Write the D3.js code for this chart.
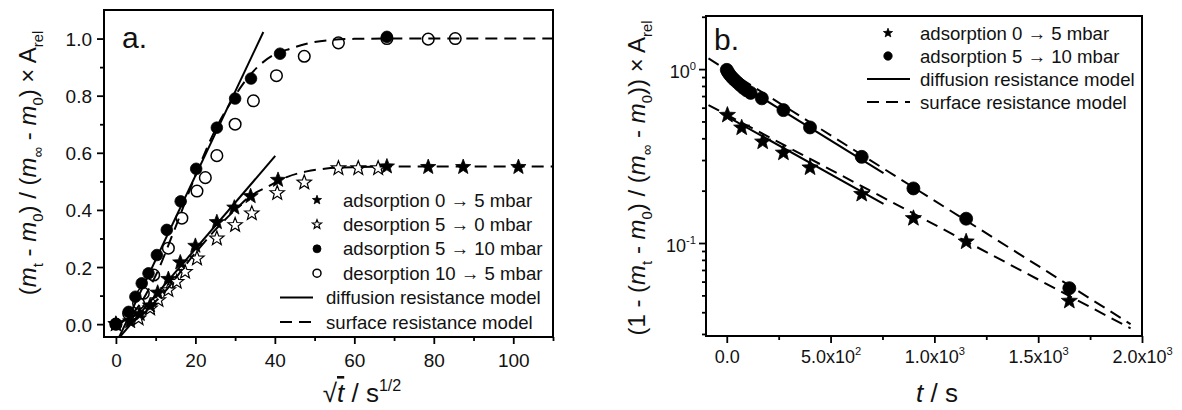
<!DOCTYPE html>
<html>
<head>
<meta charset="utf-8">
<script src="https://cdn.jsdelivr.net/npm/d3@7"></script>
<style>
  body { margin: 0; background: #fff; }
  svg { display: block; font-family: "Liberation Sans", Arial, sans-serif; }
  .tick text { fill: #111; }
</style>
</head>
<body>
<svg id="chart" width="1182" height="410"></svg>
<script>
// ── Panel a: sqrt(t) vs normalised uptake ─────────────────────────────────────
const aTicksX = [0, 20, 40, 60, 80, 100];
const aMinorX = [10, 30, 50, 70, 90, 110];
const aTicksY = [0.0, 0.2, 0.4, 0.6, 0.8, 1.0];
const aMinorY = [0.1, 0.3, 0.5, 0.7, 0.9];

const adsLowX = [0, 3.6, 6.0, 8.6, 10.5, 13.2, 16.2, 20.0, 25.4, 29.8, 33.9, 40.8, 68.2, 78.6, 87.4, 101.3];
const adsLowY = [0.0, 0.01, 0.035, 0.065, 0.11, 0.158, 0.216, 0.274, 0.357, 0.408, 0.448, 0.505, 0.552, 0.55, 0.55, 0.55];

const desLowX = [0, 5.7, 8.6, 10.7, 13.2, 15.3, 17.4, 20.4, 25.4, 30.0, 34.2, 40.6, 47.4, 56, 61, 66];
const desLowY = [0.0, 0.02, 0.055, 0.084, 0.119, 0.148, 0.183, 0.23, 0.30, 0.347, 0.388, 0.459, 0.496, 0.546, 0.546, 0.546];

const adsHighX = [0, 3.2, 4.9, 6.5, 8.2, 10.3, 12.8, 16.3, 20.2, 25.4, 30.0, 34.0, 41.3, 68.2];
const adsHighY = [0.0, 0.043, 0.096, 0.143, 0.178, 0.242, 0.33, 0.43, 0.544, 0.688, 0.79, 0.86, 0.947, 1.006];

const desHighX = [0, 3.2, 5.7, 6.9, 9.5, 13.2, 16.6, 20.4, 22.5, 25.4, 30.0, 34.6, 40.4, 47.4, 56, 68.2, 78.6, 85.4];
const desHighY = [0.0, 0.037, 0.073, 0.108, 0.172, 0.266, 0.371, 0.466, 0.513, 0.59, 0.70, 0.782, 0.87, 0.938, 0.985, 1.0, 0.998, 1.0];

const diffAHighX = [0.66, 37.1], diffAHighY = [-0.05, 1.023];
const diffALowX = [0.66, 40.1], diffALowY = [-0.05, 0.589];
const surfAHighX = [0, 5, 10, 15, 20, 25, 30, 33, 36, 40, 44, 48, 54, 60, 70, 110];
const surfAHighY = [0, 0.05, 0.17, 0.34, 0.52, 0.68, 0.80, 0.86, 0.905, 0.945, 0.965, 0.982, 0.995, 0.999, 1.0, 1.0];
const surfALowX = [0, 10, 20, 25, 30, 34, 38, 43, 48, 53, 60, 70, 110];
const surfALowY = [0, 0.08, 0.25, 0.33, 0.40, 0.45, 0.48, 0.515, 0.535, 0.545, 0.55, 0.552, 0.552];

const aLegend = ["adsorption 0 \u2192 5 mbar", "desorption 5 \u2192 0 mbar", "adsorption 5 \u2192 10 mbar",
  "desorption 10 \u2192 5 mbar", "diffusion resistance model", "surface resistance model"];

// ── Panel b: t vs remaining fraction (log) ────────────────────────────────────
const bTicksX = [0, 500, 1000, 1500, 2000];
const bTickLabelsX = [["0.0", ""], ["5.0x10", "2"], ["1.0x10", "3"], ["1.5x10", "3"], ["2.0x10", "3"]];
const bMinorX = [250, 750, 1250, 1750];
const bTicksY = [1, 0.1];
const bTickLabelsY = [["10", "0"], ["10", "-1"]];
const bMinorY = [0.03, 0.04, 0.05, 0.06, 0.07, 0.08, 0.09, 0.2, 0.3, 0.4, 0.5, 0.6, 0.7, 0.8, 0.9, 2];

const bAdsLowT = [3, 72, 173, 273, 401, 650, 899, 1153, 1650];
const bAdsLowV = [0.544, 0.46, 0.382, 0.330, 0.271, 0.191, 0.1387, 0.1017, 0.0464];
const bAdsHighT = [0, 6, 14, 24, 36, 50, 64, 80, 96, 115, 169, 273, 401, 650, 899, 1153, 1650];
const bAdsHighV = [0.99, 0.96, 0.93, 0.90, 0.87, 0.84, 0.81, 0.78, 0.755, 0.73, 0.679, 0.581, 0.462, 0.313, 0.206, 0.138, 0.055];

const diffBHighT = [0, 755], diffBHighV = [0.91, 0.252];
const diffBLowT = [0, 755], diffBLowV = [0.535, 0.168];
const surfBHighT = [-88, 1945], surfBHighV = [1.152, 0.0342];
const surfBLowT = [-88, 1945], surfBLowV = [0.621, 0.0323];

const bLegend = ["adsorption 0 \u2192 5 mbar", "adsorption 5 \u2192 10 mbar",
  "diffusion resistance model", "surface resistance model"];

// ── Helpers ───────────────────────────────────────────────────────────────────
const svg = d3.select("#chart");
svg.append("rect").attr("width", 1182).attr("height", 410).attr("fill", "#fff");

function starPath(R) {
  const r = R * 0.42;
  let p = "";
  for (let i = 0; i < 10; i++) {
    const a = -Math.PI / 2 + i * Math.PI / 5;
    const rr = i % 2 ? r : R;
    p += (i ? "L" : "M") + (rr * Math.cos(a)).toFixed(2) + "," + (rr * Math.sin(a)).toFixed(2);
  }
  return p + "Z";
}

function marker(g, kind, size) {
  if (kind === "star" || kind === "ostar") {
    return g.append("path").attr("d", starPath(size))
      .attr("fill", kind === "star" ? "#000" : "none")
      .attr("stroke", "#000").attr("stroke-width", kind === "star" ? 0.8 : 1.2)
      .attr("stroke-linejoin", "miter");
  }
  return g.append("circle").attr("r", size)
    .attr("fill", kind === "dot" ? "#000" : "none")
    .attr("stroke", "#000").attr("stroke-width", kind === "dot" ? 0.8 : 1.5);
}

// rich text: parts = [{t, i, sub, sup, over}]
function rich(textSel, parts, fs) {
  let shift = 0;
  parts.forEach((p) => {
    const target = p.sub ? fs * 0.28 : p.sup ? -fs * 0.42 : 0;
    const ts = textSel.append("tspan").text(p.t)
      .attr("font-size", p.sub || p.sup ? fs * 0.62 : fs);
    if (target - shift !== 0) ts.attr("dy", target - shift);
    if (p.i) ts.attr("font-style", "italic");
    if (p.over) ts.style("text-decoration", "overline");
    shift = target;
  });
}

function frame(g, x0, y0, x1, y1) {
  g.append("rect").attr("x", x0).attr("y", y0).attr("width", x1 - x0).attr("height", y1 - y0)
    .attr("fill", "none").attr("stroke", "#000").attr("stroke-width", 2);
}

function drawSeries(g, xs, ys, x, y, kind, size) {
  xs.forEach((v, i) => {
    const m = marker(g, kind, size);
    m.attr("transform", `translate(${x(v)},${y(ys[i])})`);
  });
}

function drawLine(g, xs, ys, x, y, dashed, curve) {
  const pts = xs.map((v, i) => [v, ys[i]]);
  g.append("path")
    .attr("d", d3.line().x((d) => x(d[0])).y((d) => y(d[1])).curve(curve || d3.curveLinear)(pts))
    .attr("fill", "none").attr("stroke", "#000").attr("stroke-width", 2)
    .attr("stroke-dasharray", dashed ? "12,7" : null);
}

function styleAxis(g) {
  g.select(".domain").remove();
  g.selectAll(".tick line").attr("stroke", "#000").attr("stroke-width", 1.8);
}

// ── Panel a ───────────────────────────────────────────────────────────────────
const A = { l: 104, t: 10, r: 553, b: 337 };
const xA = d3.scaleLinear().domain([-3, 110]).range([A.l, A.r]);
const yA = d3.scaleLinear().domain([-0.045, 1.10]).range([A.b, A.t]);

svg.append("clipPath").attr("id", "clipA").append("rect")
  .attr("x", A.l).attr("y", A.t).attr("width", A.r - A.l).attr("height", A.b - A.t);

const gA = svg.append("g");
const linesA = gA.append("g").attr("clip-path", "url(#clipA)");
drawLine(linesA, diffAHighX, diffAHighY, xA, yA, false);
drawLine(linesA, diffALowX, diffALowY, xA, yA, false);
drawLine(linesA, surfAHighX, surfAHighY, xA, yA, true, d3.curveMonotoneX);
drawLine(linesA, surfALowX, surfALowY, xA, yA, true, d3.curveMonotoneX);

const marksA = gA.append("g");
drawSeries(marksA, desLowX, desLowY, xA, yA, "ostar", 7.5);
drawSeries(marksA, adsLowX, adsLowY, xA, yA, "star", 8);
drawSeries(marksA, adsHighX, adsHighY, xA, yA, "dot", 5.8);
drawSeries(marksA, desHighX, desHighY, xA, yA, "ocirc", 5.8);

gA.append("g").attr("transform", `translate(0,${A.b})`)
  .call(d3.axisBottom(xA).tickValues(aTicksX).tickSize(7).tickFormat(d3.format("d")))
  .call(styleAxis).selectAll("text")
  .attr("font-size", 19).attr("font-family", null).attr("dy", null).attr("y", 30);
gA.append("g").attr("transform", `translate(0,${A.b})`)
  .call(d3.axisBottom(xA).tickValues(aMinorX).tickSize(4).tickFormat(""))
  .call(styleAxis);
gA.append("g").attr("transform", `translate(${A.l},0)`)
  .call(d3.axisLeft(yA).tickValues(aTicksY).tickSize(7).tickPadding(5).tickFormat(d3.format(".1f")))
  .call(styleAxis).selectAll("text")
  .attr("font-size", 19).attr("font-family", null).attr("dy", null).attr("y", 7);
gA.append("g").attr("transform", `translate(${A.l},0)`)
  .call(d3.axisLeft(yA).tickValues(aMinorY).tickSize(4).tickFormat(""))
  .call(styleAxis);
frame(gA, A.l, A.t, A.r, A.b);

gA.append("text").attr("x", 122).attr("y", 48).attr("font-size", 30).attr("fill", "#111").text("a.");

// axis titles
rich(gA.append("text").attr("text-anchor", "middle").attr("fill", "#111")
  .attr("transform", "translate(36,163) rotate(-90)"), [
  { t: "(" }, { t: "m", i: 1 }, { t: "t", sub: 1 }, { t: " - " }, { t: "m", i: 1 }, { t: "0", sub: 1 },
  { t: ") / (" }, { t: "m", i: 1 }, { t: "\u221e", sub: 1 }, { t: " - " }, { t: "m", i: 1 }, { t: "0", sub: 1 },
  { t: ") \u00d7 A" }, { t: "rel", sub: 1 }], 24);

rich(gA.append("text").attr("text-anchor", "middle").attr("fill", "#111")
  .attr("x", 362).attr("y", 402), [
  { t: "\u221a" }, { t: "t", i: 1, over: 1 }, { t: " / s" }, { t: "1/2", sup: 1 }], 26);

// legend a
const legA = gA.append("g");
const aLegKinds = ["star", "ostar", "dot", "ocirc", "solid", "dash"];
aLegend.forEach((label, i) => {
  const cy = 200 + i * 24.4;
  const kind = aLegKinds[i];
  let tx = 343;
  if (kind === "solid" || kind === "dash") {
    legA.append("line").attr("x1", 280).attr("x2", 313).attr("y1", cy).attr("y2", cy)
      .attr("stroke", "#000").attr("stroke-width", 2)
      .attr("stroke-dasharray", kind === "dash" ? "12,7" : null);
    tx = 326;
  } else {
    marker(legA, kind, kind.includes("star") ? 4.8 : 4).attr("transform", `translate(317,${cy})`);
  }
  legA.append("text").attr("x", tx).attr("y", cy + 6.5).attr("font-size", 18.6).attr("fill", "#111").text(label);
});

// ── Panel b ───────────────────────────────────────────────────────────────────
const B = { l: 706, t: 16, r: 1142, b: 336 };
const xB = d3.scaleLinear().domain([-100, 2000]).range([B.l, B.r]);
const yB = d3.scaleLog().domain([0.0292, 2.02]).range([B.b, B.t]);

svg.append("clipPath").attr("id", "clipB").append("rect")
  .attr("x", B.l).attr("y", B.t).attr("width", B.r - B.l).attr("height", B.b - B.t);

const gB = svg.append("g");
const linesB = gB.append("g").attr("clip-path", "url(#clipB)");
drawLine(linesB, diffBHighT, diffBHighV, xB, yB, false);
drawLine(linesB, diffBLowT, diffBLowV, xB, yB, false);
drawLine(linesB, surfBHighT, surfBHighV, xB, yB, true);
drawLine(linesB, surfBLowT, surfBLowV, xB, yB, true);

const marksB = gB.append("g");
drawSeries(marksB, bAdsHighT, bAdsHighV, xB, yB, "dot", 6.5);
drawSeries(marksB, bAdsLowT, bAdsLowV, xB, yB, "star", 8.5);

const axBx = gB.append("g").attr("transform", `translate(0,${B.b})`)
  .call(d3.axisBottom(xB).tickValues(bTicksX).tickSize(7).tickFormat(""))
  .call(styleAxis);
axBx.selectAll(".tick text").each(function (d, i) {
  const t = d3.select(this).attr("font-size", 18).attr("font-family", null)
    .attr("dy", null).attr("y", 27);
  rich(t, [{ t: bTickLabelsX[i][0] }, { t: bTickLabelsX[i][1], sup: 1 }], 18);
});
gB.append("g").attr("transform", `translate(0,${B.b})`)
  .call(d3.axisBottom(xB).tickValues(bMinorX).tickSize(4).tickFormat(""))
  .call(styleAxis);

const axBy = gB.append("g").attr("transform", `translate(${B.l},0)`)
  .call(d3.axisLeft(yB).tickValues(bTicksY).tickSize(7).tickPadding(3).tickFormat(""))
  .call(styleAxis);
axBy.selectAll(".tick text").each(function (d, i) {
  const t = d3.select(this).attr("font-size", 18).attr("font-family", null)
    .attr("dy", null).attr("y", 8);
  rich(t, [{ t: bTickLabelsY[i][0] }, { t: bTickLabelsY[i][1], sup: 1 }], 18);
});
gB.append("g").attr("transform", `translate(${B.l},0)`)
  .call(d3.axisLeft(yB).tickValues(bMinorY).tickSize(4).tickFormat(""))
  .call(styleAxis);
frame(gB, B.l, B.t, B.r, B.b);

gB.append("text").attr("x", 714).attr("y", 50).attr("font-size", 30).attr("fill", "#111").text("b.");

rich(gB.append("text").attr("text-anchor", "middle").attr("fill", "#111")
  .attr("transform", "translate(645,178) rotate(-90)"), [
  { t: "(1 - (" }, { t: "m", i: 1 }, { t: "t", sub: 1 }, { t: " - " }, { t: "m", i: 1 }, { t: "0", sub: 1 },
  { t: ") / (" }, { t: "m", i: 1 }, { t: "\u221e", sub: 1 }, { t: " - " }, { t: "m", i: 1 }, { t: "0", sub: 1 },
  { t: ")) \u00d7 A" }, { t: "rel", sub: 1 }], 24);

rich(gB.append("text").attr("text-anchor", "middle").attr("fill", "#111")
  .attr("x", 937).attr("y", 402), [{ t: "t", i: 1 }, { t: " / s" }], 26);

// legend b
const legB = gB.append("g");
const bLegKinds = ["star", "dot", "solid", "dash"];
bLegend.forEach((label, i) => {
  const cy = 33 + i * 23;
  const kind = bLegKinds[i];
  if (kind === "solid" || kind === "dash") {
    legB.append("line").attr("x1", 867).attr("x2", 910).attr("y1", cy).attr("y2", cy)
      .attr("stroke", "#000").attr("stroke-width", 2)
      .attr("stroke-dasharray", kind === "dash" ? "12,7" : null);
  } else {
    marker(legB, kind, kind === "star" ? 4.8 : 4.2).attr("transform", `translate(888,${cy})`);
  }
  legB.append("text").attr("x", 920).attr("y", cy + 6.5).attr("font-size", 18.6).attr("fill", "#111").text(label);
});
</script>
</body>
</html>
